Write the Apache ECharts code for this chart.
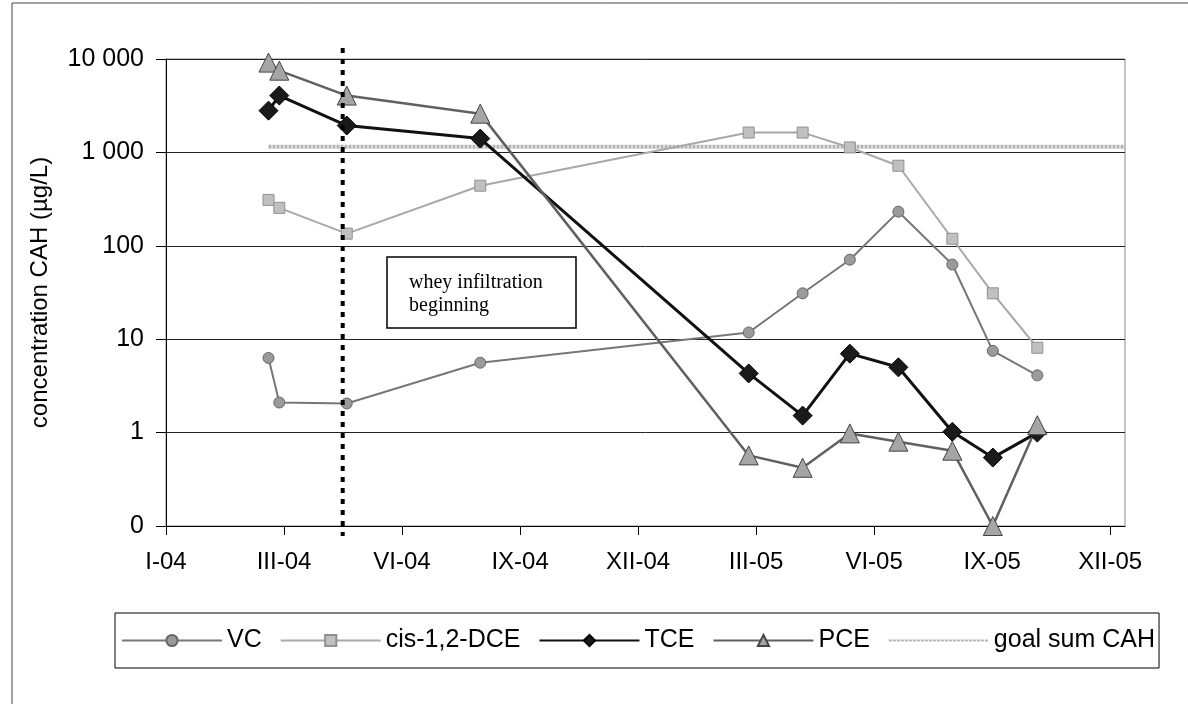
<!DOCTYPE html>
<html>
<head>
<meta charset="utf-8">
<script src="https://cdn.jsdelivr.net/npm/echarts@6/dist/echarts.min.js"></script>
<style>html,body{margin:0;padding:0;background:#fff;}#c{width:1188px;height:704px;}</style>
</head>
<body>
<div id="c"></div>
<script>
// ---- data ----
const sampleDates = ['2004-03-17','2004-03-25','2004-05-14','2004-08-21','2005-03-08','2005-04-17','2005-05-22','2005-06-27','2005-08-06','2005-09-05','2005-10-08'];
const vcValues   = [6.3, 2.1, 2.05, 5.6, 11.8, 31, 71, 232, 63, 7.5, 4.1];
const dceValues  = [310, 255, 135, 440, 1630, 1630, 1130, 720, 119, 31, 8.1];
const tceValues  = [2800, 4060, 1940, 1405, 4.3, 1.52, 7.0, 5.0, 1.02, 0.54, 1.0];
const pceValues  = [9150, 7500, 4060, 2600, 0.57, 0.42, 0.98, 0.80, 0.64, 0.1, 1.2];
const goalDates  = ['2004-03-17', '2005-12-12'];
const goalValues = [1150, 1150];
const wheyDate   = '2004-05-11';
const xTickLabels = ['I-04','III-04','VI-04','IX-04','XII-04','III-05','VI-05','IX-05','XII-05'];
const xTickStepDays = 87.5;
const axisStart = '2004-01-01';
const axisEnd = '2005-12-12';
const yMin = 0.1, yMax = 10000;

function dayOf(s) {
  const p = s.split('-').map(Number);
  const a = axisStart.split('-').map(Number);
  return (Date.UTC(p[0], p[1]-1, p[2]) - Date.UTC(a[0], a[1]-1, a[2])) / 86400000;
}
function pairs(dates, vals) { return dates.map((d, i) => [dayOf(d), vals[i]]); }
const tickDays = xTickLabels.map((_, i) => i * xTickStepDays);

const FONT = "'Liberation Sans', Arial, sans-serif";
const chart = echarts.init(document.getElementById('c'));
chart.setOption({
  animation: false,
  backgroundColor: '#fff',
  grid: { left: 166, right: 63, top: 59, bottom: 178, show: true, borderColor: '#888', borderWidth: 1 },
  xAxis: {
    type: 'value', min: 0, max: dayOf(axisEnd),
    axisLine: { lineStyle: { color: '#000', width: 1 } },
    axisTick: { show: true, length: 9, customValues: tickDays, lineStyle: { color: '#000' } },
    axisLabel: {
      customValues: tickDays, margin: 24, color: '#000', fontFamily: FONT, fontSize: 24,
      formatter: v => xTickLabels[Math.round(v / xTickStepDays)] || ''
    },
    splitLine: { show: false }
  },
  yAxis: {
    type: 'log', logBase: 10, min: yMin, max: yMax,
    name: 'concentration CAH (µg/L)', nameLocation: 'middle', nameRotate: 90, nameGap: 114,
    nameTextStyle: { color: '#000', fontFamily: FONT, fontSize: 24 },
    axisLine: { show: true, lineStyle: { color: '#000', width: 1 } },
    axisTick: { show: true, length: 10, lineStyle: { color: '#000' } },
    axisLabel: {
      margin: 22, color: '#000', fontFamily: FONT, fontSize: 25,
      formatter: v => v < 1 ? '0' : String(Math.round(v)).replace(/\B(?=(\d{3})+(?!\d))/g, ' ')
    },
    splitLine: { show: true, lineStyle: { color: '#222', width: 1 } },
    minorTick: { show: false }
  },
  legend: {
    data: ['VC', 'cis-1,2-DCE', 'TCE', 'PCE', { name: 'goal sum CAH', itemStyle: { opacity: 0 } }],
    left: 115, top: 613, orient: 'horizontal',
    padding: [15, 4, 15, 6], itemGap: 18, itemWidth: 100, itemHeight: 14,
    borderColor: '#000', borderWidth: 1, backgroundColor: '#fff',
    textStyle: { color: '#000', fontFamily: FONT, fontSize: 25 }
  },
  graphic: [
    { type: 'rect', silent: true, z: 100, shape: { x: 12, y: 3, width: 1400, height: 900 }, style: { fill: 'none', stroke: '#444', lineWidth: 1 } },
    { type: 'rect', silent: true, z: 90, shape: { x: 387, y: 257, width: 189, height: 71 }, style: { fill: '#fff', stroke: '#000', lineWidth: 1.5 } },
    { type: 'text', silent: true, z: 91, x: 409, y: 271, style: { text: 'whey infiltration\nbeginning', font: "20px 'Liberation Serif', 'Times New Roman', serif", fill: '#000', lineHeight: 23 } }
  ],
  series: [
    {
      name: 'goal sum CAH', type: 'line', data: pairs(goalDates, goalValues), z: 1,
      symbol: 'none',
      lineStyle: { color: '#b4b4b4', width: 4, type: [3, 1] }, itemStyle: { color: '#b4b4b4' }
    },
    {
      name: 'VC', type: 'line', data: pairs(sampleDates, vcValues), z: 3,
      symbol: 'circle', symbolSize: 11,
      lineStyle: { color: '#777', width: 2 },
      itemStyle: { color: '#9a9a9a', borderColor: '#666', borderWidth: 1 }
    },
    {
      name: 'cis-1,2-DCE', type: 'line', data: pairs(sampleDates, dceValues), z: 2,
      symbol: 'rect', symbolSize: 11,
      lineStyle: { color: '#a8a8a8', width: 2 },
      itemStyle: { color: '#c0c0c0', borderColor: '#909090', borderWidth: 1 }
    },
    {
      name: 'TCE', type: 'line', data: pairs(sampleDates, tceValues), z: 4,
      symbol: 'diamond', symbolSize: 19,
      lineStyle: { color: '#111', width: 3 },
      itemStyle: { color: '#1a1a1a', borderColor: '#000', borderWidth: 1 }
    },
    {
      name: 'PCE', type: 'line', data: pairs(sampleDates, pceValues), z: 4,
      symbol: 'triangle', symbolSize: 19,
      lineStyle: { color: '#606060', width: 2.5 },
      itemStyle: { color: '#a5a5a5', borderColor: '#444', borderWidth: 1 }
    },
    {
      name: 'whey', type: 'custom', coordinateSystem: 'cartesian2d', clip: false, silent: true, z: 6,
      data: [[dayOf(wheyDate), yMax]],
      renderItem: function (params, api) {
        const top = api.coord([api.value(0), yMax]);
        const bot = api.coord([api.value(0), yMin]);
        return { type: 'line', shape: { x1: top[0], y1: top[1] - 11, x2: bot[0], y2: bot[1] + 10 },
                 style: { stroke: '#000', lineWidth: 4, lineDash: [5, 6] } };
      }
    }
  ]
});
</script>
</body>
</html>
